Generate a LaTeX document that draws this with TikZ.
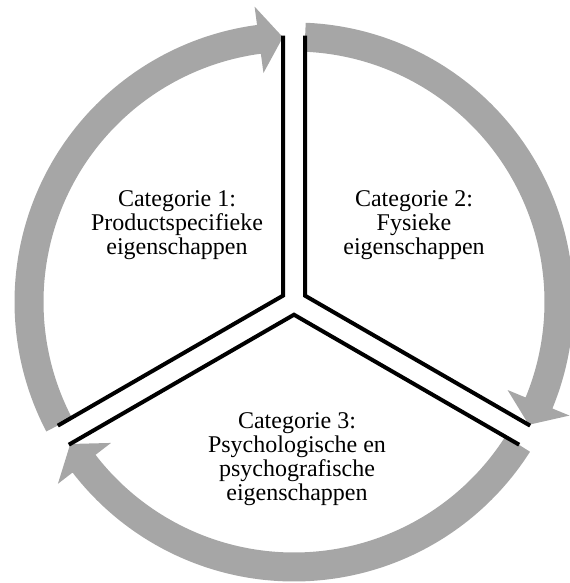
\documentclass[tikz,border=0pt]{standalone}
\usepackage{fontspec}
\setmainfont{Liberation Serif}
\usepackage{tikz}
\usetikzlibrary{calc}
\definecolor{ringgray}{HTML}{A6A6A6}

\begin{document}
\begin{tikzpicture}[x=0.5pt,y=0.5pt,
  ring/.style={fill=ringgray},
  split/.style={draw=black,line width=2pt,line join=miter},
  cattext/.style={align=center,font=\fontsize{12}{12}\selectfont,inner sep=0pt}]
  \useasboundingbox (-294,-281) rectangle (275,302);
  % grey arrows round the circle, clockwise
  \fill[ring] (207.6:250.5) arc[start angle=207.6,end angle=97.6,radius=250.5]
    -- (97.6:231) -- (92.4:265) -- (97.6:298) -- (97.6:279.5)
    arc[start angle=97.6,end angle=207.6,radius=279.5] -- cycle;
  \fill[ring] (87.6:250.5) arc[start angle=87.6,end angle=-22.4,radius=250.5]
    -- (-22.4:231) -- (-27.6:265) -- (-22.4:298) -- (-22.4:279.5)
    arc[start angle=-22.4,end angle=87.6,radius=279.5] -- cycle;
  \fill[ring] (327.6:250.5) arc[start angle=327.6,end angle=217.6,radius=250.5]
    -- (217.6:231) -- (212.4:265) -- (217.6:298) -- (217.6:279.5)
    arc[start angle=217.6,end angle=327.6,radius=279.5] -- cycle;
  % double dividing lines
  \coordinate (j1) at (150:12.7);
  \coordinate (j2) at (30:12.7);
  \coordinate (j3) at (270:12.7);
  \draw[split] ($(j1)+(90:260)$) -- (j1) -- ($(j1)+(210:260)$);
  \draw[split] ($(j2)+(90:260)$) -- (j2) -- ($(j2)+(330:260)$);
  \draw[split] ($(j3)+(210:260)$) -- (j3) -- ($(j3)+(330:260)$);
  % categories
  \node[cattext] (cat1) at (-117,76.5) {Categorie 1:\\Productspecifieke\\eigenschappen};
  \node[cattext] (cat2) at (120,76.5) {Categorie 2:\\Fysieke\\eigenschappen};
  \node[cattext] (cat3) at (3,-157) {Categorie 3:\\Psychologische en\\psychografische\\eigenschappen};
\end{tikzpicture}
\end{document}
